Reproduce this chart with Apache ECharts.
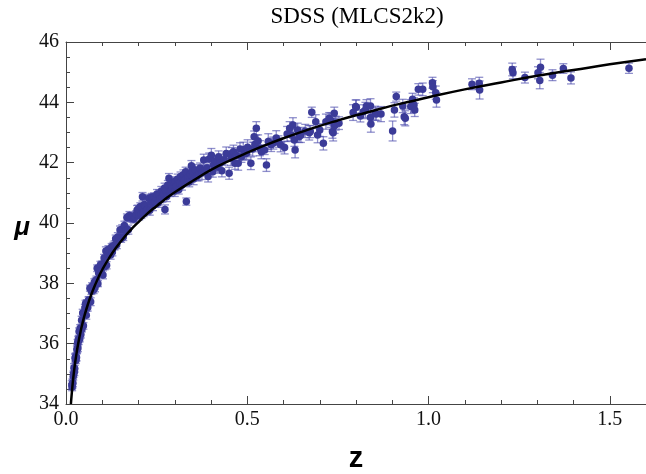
<!DOCTYPE html>
<html>
<head>
<meta charset="utf-8">
<script src="https://cdn.jsdelivr.net/npm/echarts@6.0.0/dist/echarts.min.js"></script>
<style>html,body{margin:0;padding:0;background:#fff}#main{width:646px;height:474px}</style>
</head>
<body>
<div id="main"></div>
<script>
// Supernova redshifts
const zValues = [
0.016,0.017,0.018,0.019,0.020,0.021,0.022,0.023,0.024,0.025,
0.026,0.027,0.028,0.029,0.030,0.031,0.032,0.033,0.034,0.035,
0.036,0.038,0.039,0.041,0.043,0.044,0.046,0.048,0.050,0.052,
0.054,0.056,0.058,0.060,0.062,0.064,0.066,0.068,0.070,0.072,
0.074,0.076,0.078,0.080,0.082,0.084,0.086,0.088,0.090,0.092,
0.095,0.097,0.100,0.102,0.105,0.107,0.110,0.112,0.115,0.117,
0.120,0.123,0.126,0.128,0.131,0.134,0.137,0.140,0.143,0.146,
0.149,0.152,0.155,0.158,0.161,0.165,0.168,0.172,0.175,0.178,
0.181,0.184,0.187,0.190,0.193,0.196,0.199,0.202,0.205,0.208,
0.211,0.214,0.216,0.219,0.222,0.225,0.228,0.231,0.234,0.237,
0.240,0.243,0.246,0.248,0.251,0.254,0.257,0.260,0.263,0.266,
0.269,0.272,0.273,0.275,0.278,0.281,0.284,0.287,0.289,0.291,
0.294,0.297,0.300,0.302,0.305,0.308,0.311,0.314,0.316,0.320,
0.324,0.327,0.330,0.332,0.336,0.340,0.343,0.346,0.348,0.352,
0.357,0.362,0.366,0.370,0.375,0.380,0.384,0.389,0.392,0.395,
0.401,0.405,0.407,0.413,0.418,0.421,0.425,0.430,0.436,0.442,
0.450,0.455,0.458,0.462,0.466,0.470,0.475,0.480,0.484,0.489,
0.494,0.498,0.501,0.510,0.515,0.519,0.521,0.525,0.530,0.535,
0.539,0.548,0.553,0.558,0.566,0.572,0.580,0.586,0.592,0.603,
0.610,0.617,0.621,0.626,0.630,0.632,0.639,0.643,0.648,0.660,
0.671,0.674,0.678,0.689,0.694,0.700,0.710,0.717,0.726,0.730,
0.735,0.737,0.740,0.741,0.744,0.753,0.792,0.799,0.801,0.812,
0.820,0.826,0.829,0.840,0.840,0.841,0.853,0.856,0.869,0.901,
0.906,0.911,0.929,0.933,0.936,0.951,0.956,0.960,0.962,0.972,
0.984,1.011,1.012,1.020,1.022,1.120,1.140,1.141,1.231,1.233,
1.266,1.302,1.307,1.309,1.342,1.372,1.393,1.553
];
// Distance moduli
const muValues = [
34.63,34.56,34.68,34.70,34.92,34.99,35.20,35.06,35.17,35.52,
35.56,35.44,35.56,35.54,35.80,35.84,36.04,35.86,36.14,36.10,
36.40,36.16,36.51,36.30,36.78,36.49,37.02,36.59,37.00,37.18,
37.33,36.94,37.36,37.20,37.44,37.44,37.84,37.39,37.74,37.90,
37.88,37.78,38.04,37.85,38.08,38.12,38.50,37.99,38.34,38.48,
38.62,38.42,38.64,38.28,38.84,38.56,39.07,38.60,38.97,39.12,
39.08,38.94,39.21,39.04,39.24,39.26,39.48,39.28,39.54,39.50,
39.77,39.48,39.79,39.54,39.92,39.75,40.18,39.78,40.25,40.18,
40.17,40.18,40.13,40.20,40.28,40.42,40.46,40.24,40.55,40.30,
40.87,40.34,40.61,40.54,40.42,40.45,40.82,40.42,40.69,40.86,
40.56,40.86,40.70,40.84,40.96,40.66,40.94,40.80,41.06,40.86,
40.96,41.16,40.45,41.08,40.88,41.26,41.48,41.02,41.26,41.08,
41.16,41.36,41.06,41.38,41.22,41.46,41.10,41.32,41.54,41.26,
41.60,41.42,41.70,40.71,41.50,41.36,41.60,41.90,41.72,41.46,
41.76,41.56,41.60,41.82,41.66,42.09,41.76,41.82,41.54,42.12,
42.25,41.70,41.92,42.06,41.86,42.20,41.98,41.73,42.10,42.30,
41.65,42.15,42.31,42.36,41.98,42.25,41.98,42.45,42.20,42.44,
42.30,42.31,42.51,41.98,42.45,42.86,42.60,43.14,42.72,42.48,
42.36,42.42,41.92,42.70,42.59,42.65,42.82,42.70,42.59,42.50,
42.95,43.14,42.92,43.25,42.75,42.42,43.08,42.86,42.92,43.05,
42.99,43.03,43.67,43.36,42.92,43.08,42.64,43.36,43.47,43.41,
43.03,42.99,43.64,43.22,43.31,43.31,43.66,43.86,43.84,43.55,
43.69,43.75,43.88,43.88,43.50,43.28,43.64,43.61,43.61,43.05,
43.75,44.19,43.88,43.52,43.47,43.86,44.10,43.91,43.75,44.43,
44.43,44.65,44.52,44.32,44.08,44.60,44.63,44.41,45.09,44.98,
44.82,44.98,44.72,45.16,44.90,45.12,44.81,45.13
];
// 1-sigma errors on mu
const muErrors = [
0.14,0.12,0.15,0.12,0.13,0.11,0.14,0.12,0.11,0.13,
0.12,0.10,0.13,0.11,0.12,0.14,0.10,0.12,0.11,0.13,
0.12,0.10,0.12,0.11,0.13,0.10,0.12,0.11,0.10,0.12,
0.11,0.13,0.10,0.12,0.11,0.12,0.10,0.13,0.11,0.12,
0.10,0.12,0.11,0.13,0.10,0.12,0.11,0.10,0.12,0.13,
0.11,0.12,0.10,0.13,0.12,0.11,0.14,0.12,0.11,0.13,
0.12,0.14,0.11,0.13,0.12,0.15,0.12,0.13,0.14,0.12,
0.13,0.12,0.15,0.12,0.14,0.13,0.12,0.15,0.13,0.14,
0.12,0.15,0.13,0.14,0.12,0.16,0.13,0.14,0.12,0.15,
0.14,0.13,0.16,0.12,0.14,0.15,0.13,0.16,0.14,0.12,
0.15,0.14,0.17,0.13,0.15,0.14,0.16,0.13,0.15,0.17,
0.14,0.16,0.15,0.13,0.17,0.15,0.16,0.14,0.18,0.15,
0.16,0.14,0.18,0.15,0.17,0.16,0.14,0.18,0.15,0.17,
0.16,0.19,0.15,0.12,0.18,0.16,0.20,0.17,0.15,0.19,
0.18,0.16,0.20,0.17,0.22,0.19,0.17,0.21,0.18,0.20,
0.22,0.18,0.20,0.17,0.21,0.19,0.23,0.20,0.18,0.22,
0.20,0.24,0.19,0.22,0.20,0.18,0.23,0.21,0.19,0.24,
0.22,0.20,0.25,0.21,0.23,0.19,0.24,0.22,0.20,0.25,
0.23,0.15,0.21,0.26,0.22,0.20,0.24,0.19,0.23,0.21,
0.25,0.22,0.20,0.24,0.21,0.26,0.23,0.19,0.25,0.22,
0.24,0.20,0.17,0.23,0.26,0.21,0.22,0.25,0.19,0.24,
0.22,0.27,0.20,0.25,0.23,0.21,0.26,0.22,0.24,0.20,
0.23,0.25,0.21,0.24,0.22,0.27,0.23,0.21,0.25,0.33,
0.24,0.15,0.22,0.26,0.25,0.23,0.20,0.24,0.22,0.19,
0.21,0.18,0.20,0.22,0.24,0.18,0.20,0.30,0.21,0.20,
0.18,0.20,0.27,0.27,0.18,0.16,0.20,0.17
];
// Best-fit model curve
const curveZ = [0.0135,0.015,0.0175,0.02,0.025,0.03,0.035,0.04,0.045,0.05,0.06,0.07,0.08,0.09,0.1,0.12,0.14,0.16,0.18,0.2,0.22,0.24,0.26,0.28,0.3,0.35,0.4,0.45,0.5,0.55,0.6,0.65,0.7,0.75,0.8,0.85,0.9,0.95,1.0,1.1,1.2,1.3,1.4,1.5,1.6];
const curveMu = [34.00,34.23,34.56,34.86,35.35,35.75,36.09,36.39,36.65,36.89,37.29,37.64,37.94,38.21,38.45,38.86,39.21,39.52,39.79,40.03,40.26,40.47,40.66,40.85,41.02,41.40,41.76,42.06,42.33,42.58,42.81,43.02,43.22,43.40,43.57,43.73,43.89,44.03,44.17,44.43,44.66,44.88,45.07,45.26,45.43];

const titleText = 'SDSS (MLCS2k2)';
const xName = 'z';
const yName = 'μ';

const chart = echarts.init(document.getElementById('main'), null, {renderer: 'canvas'});
const points = zValues.map((z, i) => [z, muValues[i], muErrors[i]]);
const curve = curveZ.map((z, i) => [z, curveMu[i]]);

const frameColor = '#444';
const labelFont = {fontFamily: 'Liberation Serif', fontSize: 20, color: '#111'};

function renderErr(params, api) {
  const x = api.value(0), y = api.value(1), e = api.value(2);
  const p1 = api.coord([x, y + e]);
  const p2 = api.coord([x, y - e]);
  const hw = 4;
  const st = {stroke: 'rgba(76,76,172,0.62)', lineWidth: 1.3, fill: null};
  return {
    type: 'group',
    children: [
      {type: 'line', shape: {x1: p1[0], y1: p1[1], x2: p2[0], y2: p2[1]}, style: st},
      {type: 'line', shape: {x1: p1[0] - hw, y1: p1[1], x2: p1[0] + hw, y2: p1[1]}, style: st},
      {type: 'line', shape: {x1: p2[0] - hw, y1: p2[1], x2: p2[0] + hw, y2: p2[1]}, style: st}
    ]
  };
}

function xAxisDef(pos, interval, len, showLine, showLabel) {
  return {
    type: 'value', position: pos, min: 0, max: 1.6, interval: interval,
    axisLine: {show: showLine, lineStyle: {color: frameColor, width: 1}},
    axisTick: {show: true, inside: true, length: len, lineStyle: {color: frameColor, width: 1}},
    splitLine: {show: false},
    axisLabel: showLabel ? Object.assign({show: true, margin: 6, showMaxLabel: false,
      formatter: v => v.toFixed(1)}, labelFont) : {show: false}
  };
}

const option = {
  animation: false,
  backgroundColor: '#fff',
  grid: {left: 66, top: 42, width: 585.6, height: 362, containLabel: false},
  xAxis: [
    xAxisDef('bottom', 0.5, 8, true, true),
    xAxisDef('bottom', 0.1, 4, false, false),
    xAxisDef('top', 0.5, 8, true, false),
    xAxisDef('top', 0.1, 4, false, false)
  ],
  yAxis: [{
    type: 'value', min: 34, max: 46, interval: 2,
    axisLine: {show: true, lineStyle: {color: frameColor, width: 1}},
    axisTick: {show: true, inside: true, length: 8, lineStyle: {color: frameColor, width: 1}},
    minorTick: {show: true, splitNumber: 4, length: 4, lineStyle: {color: frameColor, width: 1}},
    splitLine: {show: false}, minorSplitLine: {show: false},
    axisLabel: Object.assign({show: true, margin: 7}, labelFont)
  }],
  series: [
    {type: 'custom', renderItem: renderErr, data: points, encode: {x: 0, y: 1}, z: 1, silent: true},
    {type: 'scatter', data: points.map(p => [p[0], p[1]]), symbol: 'circle', symbolSize: 7.5,
     itemStyle: {color: '#3b3b98', opacity: 1}, z: 2, silent: true},
    {type: 'line', data: curve, showSymbol: false, smooth: true, clip: true,
     lineStyle: {color: '#000', width: 2.5}, z: 3, silent: true}
  ],
  graphic: [
    {type: 'text', x: 357, y: 17, style: {text: titleText, textAlign: 'center', textVerticalAlign: 'middle',
      font: '23px "Liberation Serif"', fill: '#000'}},
    {type: 'text', x: 356, y: 459, style: {text: xName, textAlign: 'center', textVerticalAlign: 'middle',
      font: 'bold 29px "Liberation Sans"', fill: '#000'}},
    {type: 'text', x: 22, y: 228, style: {text: yName, textAlign: 'center', textVerticalAlign: 'middle',
      font: 'italic bold 26px "Liberation Sans"', fill: '#000'}}
  ]
};
chart.setOption(option);
</script>
</body>
</html>
